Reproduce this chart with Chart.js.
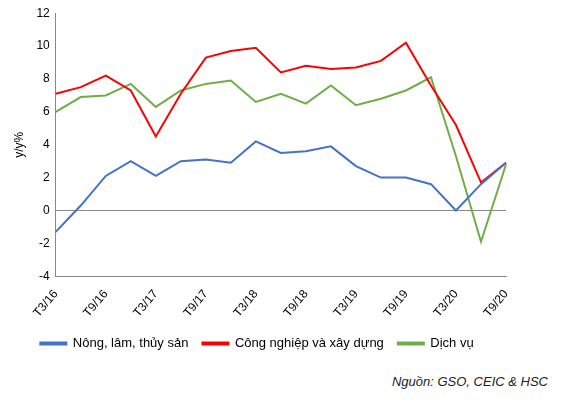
<!DOCTYPE html>
<html>
<head>
<meta charset="utf-8">
<script src="https://cdn.jsdelivr.net/npm/chart.js@4"></script>
<style>
body { margin: 0; background: #fff; font-family: Arial, "Liberation Sans", sans-serif; }
#wrap { position: relative; width: 568px; height: 360px; }
#src { position: absolute; left: 0; top: 374px; width: 548px; text-align: right; font-style: italic; font-size: 13px; color: #222; }
</style>
</head>
<body>
<div id="wrap"><canvas id="c" width="568" height="360"></canvas></div>
<div id="src">Nguồn: GSO, CEIC &amp; HSC</div>
<script>
// quarters from Q1/2016 to Q3/2020
const quarters = ["T3/16","T6/16","T9/16","T12/16","T3/17","T6/17","T9/17","T12/17","T3/18","T6/18","T9/18","T12/18","T3/19","T6/19","T9/19","T12/19","T3/20","T6/20","T9/20"];
const nongNghiep = [-1.3, 0.3, 2.1, 3.0, 2.1, 3.0, 3.1, 2.9, 4.2, 3.5, 3.6, 3.9, 2.7, 2.0, 2.0, 1.6, 0.0, 1.6, 2.9];
const congNghiep = [7.1, 7.5, 8.2, 7.3, 4.5, 7.1, 9.3, 9.7, 9.9, 8.4, 8.8, 8.6, 8.7, 9.1, 10.2, 7.6, 5.2, 1.7, 2.9];
const dichVu = [6.0, 6.9, 7.0, 7.7, 6.3, 7.3, 7.7, 7.9, 6.6, 7.1, 6.5, 7.6, 6.4, 6.8, 7.3, 8.1, 3.3, -1.9, 2.8];

const line = (label, data, color) => ({ label, data, borderColor: color, backgroundColor: color, borderWidth: 2, pointRadius: 0, tension: 0 });

new Chart(document.getElementById('c'), {
  type: 'line',
  data: {
    labels: quarters,
    datasets: [
      line('Nông, lâm, thủy sản', nongNghiep, '#4472c4'),
      line('Công nghiệp và xây dựng', congNghiep, '#ff0000'),
      line('Dịch vụ', dichVu, '#70ad47')
    ]
  },
  options: {
    responsive: false,
    animation: false,
    layout: { padding: { left: 8, right: 62, top: 6 } },
    scales: {
      x: {
        grid: { display: false },
        border: { color: '#888' },
        ticks: {
          autoSkip: false, maxRotation: 50, minRotation: 50, color: '#000', font: { size: 12 },
          callback: (v, i) => i % 2 === 0 ? quarters[i] : ''
        }
      },
      y: {
        min: -4, max: 12,
        grid: { drawOnChartArea: true, color: ctx => ctx.tick && ctx.tick.value === 0 ? '#888' : 'rgba(0,0,0,0)', drawTicks: false },
        border: { color: '#888' },
        title: { display: true, text: 'y/y%', color: '#000', font: { size: 12 } },
        ticks: { stepSize: 2, color: '#000', font: { size: 12 }, padding: 6 }
      }
    },
    plugins: {
      legend: {
        position: 'bottom',
        labels: { boxWidth: 26, boxHeight: 2, color: '#000', font: { size: 13 }, padding: 14 }
      }
    }
  }
});
</script>
</body>
</html>
